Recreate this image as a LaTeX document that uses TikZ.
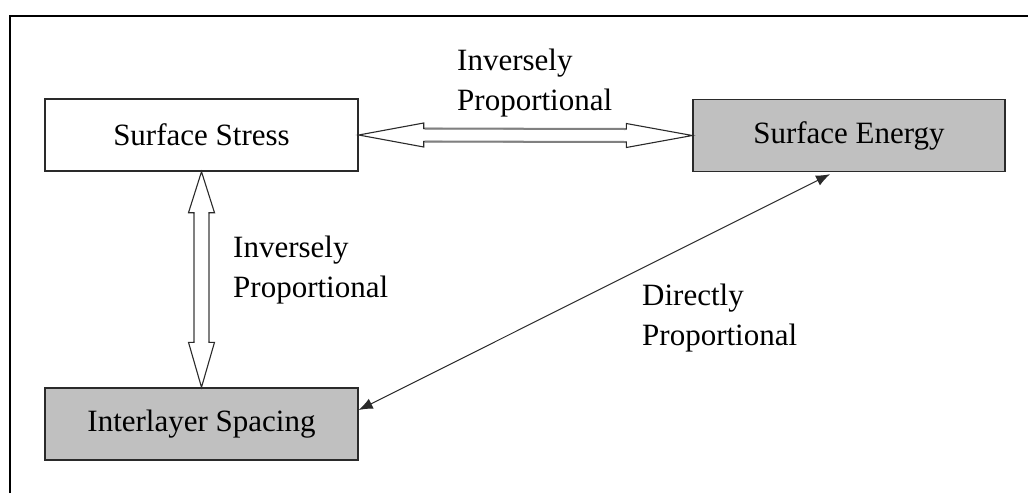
\documentclass[tikz,border=0pt]{standalone}
\usepackage{fontspec}
\setmainfont{Liberation Serif}
\usetikzlibrary{calc,arrows.meta}
\definecolor{boxgray}{HTML}{C0C0C0}
\definecolor{edgegray}{HTML}{2A2A2A}
\tikzset{
  x=1pt, y=-1pt,
  box/.style={draw=edgegray, line width=1.4pt, minimum width=313pt, minimum height=72pt,
    inner sep=0pt, font=\fontsize{31}{40}\selectfont},
  grayfill/.style={fill=boxgray},
  hollow/.style={draw=edgegray, line width=1.1pt, fill=white, line join=miter},
  shaftline/.style={draw=gray, line width=2pt},
  lbl/.style={anchor=north west, inner sep=0pt, align=left, font=\fontsize{31}{40}\selectfont},
  thin/.style={draw=edgegray, line width=1pt, {Latex[length=14pt,width=11pt]}-{Latex[length=14pt,width=11pt]}}
}
\begin{document}
\begin{tikzpicture}
\useasboundingbox (0,0) rectangle (1028,493);
\fill[white] (0,0) rectangle (1028,493);
% frame
\draw[line width=2.2pt] (10,493) -- (10,16) -- (1028,16);

\node[box] (ss) at (201.5,135) {Surface Stress};
\node[box,grayfill,minimum width=312pt] (se) at (849,135.5) {Surface Energy};
\node[box,grayfill] (il) at (201.5,424) {Interlayer Spacing};

% horizontal hollow double arrow
\draw[hollow] (ss.east) -- ++(65,12) -- ++(0,-5.5) -- ($(se.west)+(-66,6.5)$) -- ++(0,5.5)
  -- (se.west) -- ++(-66,-12) -- ++(0,5.5) -- ($(ss.east)+(65,-6.5)$) -- ++(0,-5.5) -- cycle;
\draw[shaftline] ($(ss.east)+(66,-6.5)$) -- ($(se.west)+(-67,-6.5)$);
\draw[shaftline] ($(ss.east)+(66,6.5)$) -- ($(se.west)+(-67,6.5)$);

% vertical hollow double arrow
\draw[hollow] (ss.south) -- ++(13,41) -- ++(-5.5,0) -- ($(il.north)+(7.5,-45)$) -- ++(5.5,0)
  -- (il.north) -- ++(-13,-45) -- ++(5.5,0) -- ($(ss.south)+(-7.5,41)$) -- ++(-5.5,0) -- cycle;
\draw[shaftline] ($(ss.south)+(-7.5,42)$) -- ($(il.north)+(-7.5,-46)$);
\draw[shaftline] ($(ss.south)+(7.5,42)$) -- ($(il.north)+(7.5,-46)$);

% diagonal thin double arrow
\draw[thin] ($(il.east)+(0,-14)$) -- ($(se.south)+(-19,2)$);

% labels
\node[lbl] (l1) at (457,48.5) {Inversely\\Proportional};
\node[lbl] (l2) at (233,236) {Inversely\\Proportional};
\node[lbl] (l3) at (642,284) {Directly\\Proportional};
\end{tikzpicture}
\end{document}
